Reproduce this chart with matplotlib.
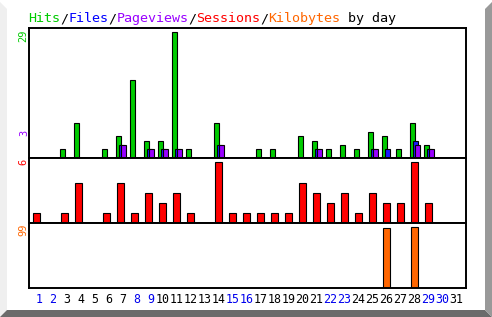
import matplotlib
matplotlib.use('Agg')
import matplotlib.pyplot as plt
from matplotlib.patches import Polygon

# daily stats
days = list(range(1, 32))
hits = [0, 0, 2, 8, 0, 2, 5, 18, 4, 4, 29, 2, 0, 8, 0, 0,
        2, 2, 0, 5, 4, 2, 3, 2, 6, 5, 2, 8, 3, 0, 0]
files = [0, 0, 0, 0, 0, 0, 3, 0, 2, 2, 2, 0, 0, 3, 0, 0,
         0, 0, 0, 0, 2, 0, 0, 0, 2, 2, 0, 4, 2, 0, 0]
pageviews = [0, 0, 0, 0, 0, 0, 3, 0, 2, 2, 2, 0, 0, 3, 0, 0,
             0, 0, 0, 0, 2, 0, 0, 0, 2, 0, 0, 3, 2, 0, 0]
sessions = [1, 0, 1, 4, 0, 1, 4, 1, 3, 2, 3, 1, 0, 6, 1, 1,
            1, 1, 1, 4, 3, 2, 3, 1, 3, 2, 2, 6, 2, 0, 0]
kilobytes = [0] * 25 + [97, 0, 99, 0, 0, 0]
weekend_days = [1, 2, 8, 9, 15, 16, 22, 23, 29, 30]

GREEN = '#00cc00'
BLUE = '#1a1aff'
PURPLE = '#9900ff'
RED = '#ff0000'
ORANGE = '#ff6600'
MONO = 'DejaVu Sans Mono'

W, H = 492, 317
fig = plt.figure(figsize=(W / 100, H / 100), dpi=100)
fig.patch.set_facecolor('white')

def px(x, y):
    # pixel position (from top-left) -> figure coords
    return x / W, 1 - y / H

# frame / shadow strips
frame = [
    ([(0, 2), (7, 9), (7, 310), (0, 317)], '#efefef'),
    ([(0, 317), (7, 310), (485, 310), (492, 317)], '#6b6b6b'),
    ([(485, 9), (492, 2), (492, 317), (485, 310)], '#999999'),
]
for pts, col in frame:
    fig.patches.append(Polygon([px(*p) for p in pts], closed=True, transform=fig.transFigure,
                               facecolor=col, edgecolor='none', zorder=0))

left, right = 28.7, 465.7
def axes_rect(top, bottom):
    return [left / W, 1 - bottom / H, (right - left) / W, (bottom - top) / H]

ax1 = fig.add_axes(axes_rect(28.3, 158))
ax2 = fig.add_axes(axes_rect(158, 223.3))
ax3 = fig.add_axes(axes_rect(223.3, 288.3))

ek = dict(edgecolor='black', linewidth=0.8)
ax1.bar([d - 0.32 for d in days], hits, width=0.36, align='edge', color=GREEN, **ek)
ax1.bar([d - 0.107 for d in days], files, width=0.36, align='edge', color=BLUE, **ek)
ax1.bar([d + 0.036 for d in days], pageviews, width=0.39, align='edge', color=PURPLE, **ek)
ax2.bar(days, sessions, width=0.5, color=RED, **ek)
ax3.bar(days, kilobytes, width=0.5, color=ORANGE, **ek)

ax1.set_ylim(0, max(hits) * 1.032)
ax2.set_ylim(0, max(sessions) * 1.07)
ax3.set_ylim(0, max(kilobytes) * 1.06)

for ax in (ax1, ax2, ax3):
    ax.set_xlim(0.457, 31.67)
    ax.set_xticks([])
    ax.set_yticks([])
    ax.set_facecolor('white')
    for s in ax.spines.values():
        s.set_linewidth(1.4)
        s.set_color('black')

# rotated max labels on the left
fig.text(*px(23.5, 29), str(max(hits)), color=GREEN, rotation=90, ha='center', va='top',
         family=MONO, fontsize=7.5)
fig.text(*px(24, 132.5), str(max(pageviews)), color=PURPLE, rotation=90, ha='center', va='center',
         family=MONO, fontsize=7.5)
fig.text(*px(23.5, 159), str(max(sessions)), color=RED, rotation=90, ha='center', va='top',
         family=MONO, fontsize=7.5)
fig.text(*px(23.5, 224), str(max(kilobytes)), color=ORANGE, rotation=90, ha='center', va='top',
         family=MONO, fontsize=7.5)

# day labels
for d in days:
    lab = str(d)
    off = 0.2 if len(lab) == 1 else 0.0
    ax3.text(d + off, -0.17, lab, transform=ax3.get_xaxis_transform(), ha='center', va='center',
             family=MONO, fontsize=8.4, color='#0000ee' if d in weekend_days else 'black')

# multi-coloured title
pieces = [('Hits', GREEN), ('/', 'black'), ('Files', '#0000ff'), ('/', 'black'),
          ('Pageviews', PURPLE), ('/', 'black'), ('Sessions', RED), ('/', 'black'),
          ('Kilobytes', ORANGE), (' by day', 'black')]
pos = 0
for txt, col in pieces:
    fig.text(*px(28.3 + 8 * pos, 22), txt, color=col, family=MONO, fontsize=9.6,
             ha='left', va='baseline')
    pos += len(txt)

fig.savefig('out.png', dpi=100)
